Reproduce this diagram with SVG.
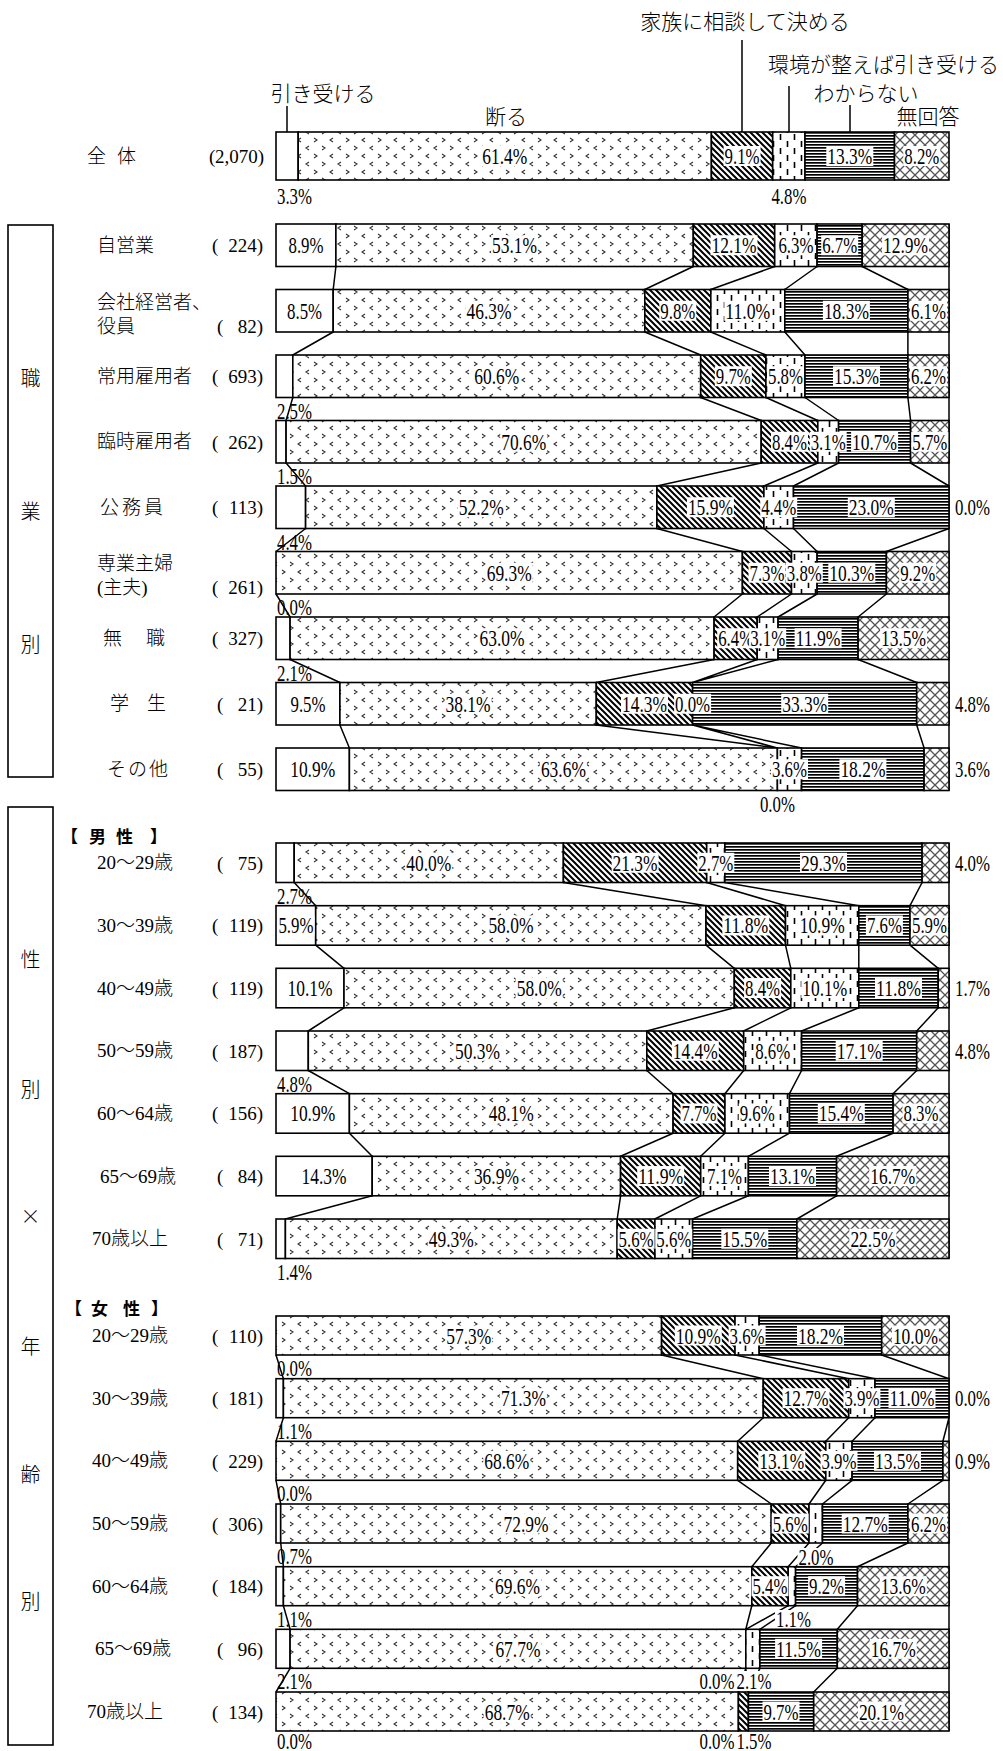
<svg xmlns="http://www.w3.org/2000/svg" width="1003" height="1751" viewBox="0 0 1003 1751">
<style>
.a,.b,.c,.d,.e,.f{stroke:#000;stroke-width:1.6}
.a{fill:#fff}.b{fill:url(#pD)}.c{fill:url(#pK)}.d{fill:url(#pE)}.e{fill:url(#pW)}.f{fill:url(#pN)}
.lb{fill:#fff}
.p{font-family:"Liberation Serif",serif;font-size:24px;dominant-baseline:central;text-anchor:middle;fill:#000}
.q{font-family:"Liberation Serif",serif;font-size:24px;dominant-baseline:central;text-anchor:start;fill:#000}
.t{font-family:"Liberation Serif","Noto Sans CJK JP",serif;font-size:19px;font-weight:300;dominant-baseline:central;fill:#000}
.h{font-family:"Noto Sans CJK JP",sans-serif;font-size:21px;font-weight:300;dominant-baseline:central;fill:#000}
.hb{font-family:"Noto Sans CJK JP",sans-serif;font-size:17px;font-weight:bold;dominant-baseline:central;fill:#000}
.k{font-family:"Noto Sans CJK JP",sans-serif;font-size:20px;font-weight:300;dominant-baseline:central;text-anchor:middle;fill:#000}
.ln{stroke:#000;stroke-width:1.5;fill:none}
.box{fill:none;stroke:#000;stroke-width:1.6}
</style>
<defs>
<pattern id="pD" width="32" height="16" patternUnits="userSpaceOnUse">
<rect width="32" height="16" fill="#fff"/>
<path d="M2,2 L5,4 L2,6 M21,2 L18,4 L21,6 M13,10 L10,12 L13,14 M26,10 L29,12 L26,14" fill="none" stroke="#333" stroke-width="1.1"/>
</pattern>
<pattern id="pK" width="6" height="6" patternUnits="userSpaceOnUse">
<rect width="6" height="6" fill="#fff"/>
<path d="M-1,-1 L7,7 M-4,2 L2,8 M2,-4 L8,2" stroke="#000" stroke-width="2"/>
</pattern>
<pattern id="pE" width="14" height="14" patternUnits="userSpaceOnUse">
<rect width="14" height="14" fill="#fff"/>
<path d="M3.5,1 V7 M10.5,8 V14" stroke="#000" stroke-width="1.6"/>
</pattern>
<pattern id="pW" width="4" height="3" patternUnits="userSpaceOnUse">
<rect width="4" height="3" fill="#fff"/>
<rect width="4" height="1.7" fill="#000"/>
</pattern>
<pattern id="pN" width="10" height="10" patternUnits="userSpaceOnUse">
<rect width="10" height="10" fill="#fff"/>
<path d="M0,0 L10,10 M10,0 L0,10" stroke="#555" stroke-width="1.3"/>
</pattern>
</defs>
<rect width="1003" height="1751" fill="#fff"/>

<g id="legend">
<text class="h" x="323" y="92" text-anchor="middle">引き受ける</text>
<text class="h" x="506" y="115" text-anchor="middle">断る</text>
<text class="h" x="745" y="20" text-anchor="middle">家族に相談して決める</text>
<text class="h" x="768" y="63">環境が整えば引き受ける</text>
<text class="h" x="866" y="92" text-anchor="middle">わからない</text>
<text class="h" x="928" y="115" text-anchor="middle">無回答</text>
<path class="ln" d="M287 106V132M742 40V132M789 86V132M850 105V132"/>
</g>

<g id="group-boxes">
<rect class="box" x="8" y="225" width="45" height="552"/>
<text class="k" x="30.5" y="377">職</text>
<text class="k" x="30.5" y="510">業</text>
<text class="k" x="30.5" y="643">別</text>
<rect class="box" x="8" y="807" width="45" height="938"/>
<text class="k" x="30.5" y="958">性</text>
<text class="k" x="30.5" y="1088">別</text>
<text class="k" x="30.5" y="1215">×</text>
<text class="k" x="30.5" y="1345">年</text>
<text class="k" x="30.5" y="1473">齢</text>
<text class="k" x="30.5" y="1600">別</text>
<text class="hb" x="61 78 89 106 116 133 150" y="835">【 男 性 】</text>
<text class="hb" x="65 82 91 108 123 140 151" y="1307">【 女 性 】</text>
</g>

<g id="connectors">
<path class="ln" d="M335.9 266.5L333.2 289.5M693.3 266.5L644.8 289.5M774.7 266.5L710.8 289.5M817.1 266.5L784.8 289.5M862.2 266.5L907.9 289.5M333.2 332L292.8 355M644.8 332L700.7 355M710.8 332L765.9 355M784.8 332L805 355M907.9 332L907.9 355M292.8 397.5L286.1 420.5M700.7 397.5L761.2 420.5M765.9 397.5L817.8 420.5M805 397.5L838.6 420.5M907.9 397.5L910.6 420.5M286.1 463L305.6 486M761.2 463L656.9 486M817.8 463L763.9 486M838.6 463L793.5 486M910.6 463L949 486M305.6 528.5L276 551.5M656.9 528.5L742.4 551.5M763.9 528.5L791.5 551.5M793.5 528.5L817.1 551.5M949 528.5L886.4 551.5M276 594L290.1 617M742.4 594L714.1 617M791.5 594L757.2 617M817.1 594L778.1 617M886.4 594L858.1 617M290.1 659.5L339.9 682.5M714.1 659.5L596.3 682.5M757.2 659.5L692.6 682.5M778.1 659.5L692.6 682.5M858.1 659.5L916.7 682.5M339.9 725L349.4 748M596.3 725L777.4 748M692.6 725L777.4 748M692.6 725L801.6 748M916.7 725L924.1 748M949 224V790.5"/>
<path class="ln" d="M294.2 882.5L315.7 905.7M563.4 882.5L706 905.7M706.7 882.5L785.5 905.7M724.9 882.5L858.8 905.7M922.1 882.5L910 905.7M315.7 945.2L344 968.3M706 945.2L734.3 968.3M785.5 945.2L790.8 968.3M858.8 945.2L858.8 968.3M910 945.2L938.2 968.3M344 1007.8L308.3 1031M734.3 1007.8L646.8 1031M790.8 1007.8L743.7 1031M858.8 1007.8L801.6 1031M938.2 1007.8L916.7 1031M308.3 1070.5L349.4 1093.7M646.8 1070.5L673.1 1093.7M743.7 1070.5L724.9 1093.7M801.6 1070.5L789.5 1093.7M916.7 1070.5L893.1 1093.7M349.4 1133.2L372.2 1156.3M673.1 1133.2L620.6 1156.3M724.9 1133.2L700.7 1156.3M789.5 1133.2L748.4 1156.3M893.1 1133.2L836.6 1156.3M372.2 1195.8L285.4 1219M620.6 1195.8L617.2 1219M700.7 1195.8L654.9 1219M748.4 1195.8L692.6 1219M836.6 1195.8L796.9 1219M949 843V1258.5"/>
<path class="ln" d="M276 1355L283.4 1378.7M661.6 1355L763.3 1378.7M735 1355L848.7 1378.7M759.2 1355L875 1378.7M881.7 1355L949 1378.7M283.4 1417.7L276 1441.3M763.3 1417.7L737.7 1441.3M848.7 1417.7L825.8 1441.3M875 1417.7L852.1 1441.3M949 1417.7L942.9 1441.3M276 1480.3L280.7 1504M737.7 1480.3L771.3 1504M825.8 1480.3L809 1504M852.1 1480.3L822.5 1504M942.9 1480.3L907.9 1504M280.7 1543L283.4 1566.7M771.3 1543L751.8 1566.7M809 1543L788.2 1566.7M822.5 1543L795.6 1566.7M907.9 1543L857.5 1566.7M283.4 1605.7L290.1 1629.3M751.8 1605.7L745.8 1629.3M788.2 1605.7L745.8 1629.3M795.6 1605.7L759.9 1629.3M857.5 1605.7L837.3 1629.3M290.1 1668.3L276 1692M745.8 1668.3L738.4 1692M745.8 1668.3L748.4 1692M759.9 1668.3L748.4 1692M837.3 1668.3L813.7 1692M949 1316V1731"/>
</g>

<g id="row-total">
<text class="t" x="87 105 117" y="156">全　体</text>
<text class="t" y="156"><tspan x="209">(</tspan><tspan x="264" text-anchor="end">2,070)</tspan></text>
<rect class="a" x="276" y="132" width="22.2" height="48"/><rect class="b" x="298.2" y="132" width="413.2" height="48"/><rect class="c" x="711.4" y="132" width="61.3" height="48"/><rect class="d" x="772.7" y="132" width="32.3" height="48"/><rect class="e" x="805" y="132" width="89.5" height="48"/><rect class="f" x="894.5" y="132" width="54.5" height="48"/>
<text class="q" x="277" y="196" textLength="35" lengthAdjust="spacingAndGlyphs">3.3%</text>
<rect class="lb" x="481.3" y="146" width="47" height="20"/><text class="p" x="504.8" y="156" textLength="45" lengthAdjust="spacingAndGlyphs">61.4%</text>
<rect class="lb" x="723.6" y="146" width="37" height="20"/><text class="p" x="742.1" y="156" textLength="35" lengthAdjust="spacingAndGlyphs">9.1%</text>
<text class="p" x="788.9" y="196" textLength="35" lengthAdjust="spacingAndGlyphs">4.8%</text>
<rect class="lb" x="826.3" y="146" width="47" height="20"/><text class="p" x="849.8" y="156" textLength="45" lengthAdjust="spacingAndGlyphs">13.3%</text>
<rect class="lb" x="903.3" y="146" width="37" height="20"/><text class="p" x="921.8" y="156" textLength="35" lengthAdjust="spacingAndGlyphs">8.2%</text>
</g>

<g id="row-jieigyo">
<text class="t" x="97" y="245.25">自営業</text>
<text class="t" y="245.25"><tspan x="212">(</tspan><tspan x="263" text-anchor="end">224)</tspan></text>
<rect class="a" x="276" y="224" width="59.9" height="42.5"/><rect class="b" x="335.9" y="224" width="357.4" height="42.5"/><rect class="c" x="693.3" y="224" width="81.4" height="42.5"/><rect class="d" x="774.7" y="224" width="42.4" height="42.5"/><rect class="e" x="817.1" y="224" width="45.1" height="42.5"/><rect class="f" x="862.2" y="224" width="86.8" height="42.5"/>
<rect class="lb" x="287.5" y="235.25" width="37" height="20"/><text class="p" x="306" y="245.25" textLength="35" lengthAdjust="spacingAndGlyphs">8.9%</text>
<rect class="lb" x="491.1" y="235.25" width="47" height="20"/><text class="p" x="514.6" y="245.25" textLength="45" lengthAdjust="spacingAndGlyphs">53.1%</text>
<rect class="lb" x="710.5" y="235.25" width="47" height="20"/><text class="p" x="734" y="245.25" textLength="45" lengthAdjust="spacingAndGlyphs">12.1%</text>
<rect class="lb" x="777.4" y="235.25" width="37" height="20"/><text class="p" x="795.9" y="245.25" textLength="35" lengthAdjust="spacingAndGlyphs">6.3%</text>
<rect class="lb" x="821.2" y="235.25" width="37" height="20"/><text class="p" x="839.7" y="245.25" textLength="35" lengthAdjust="spacingAndGlyphs">6.7%</text>
<rect class="lb" x="882.1" y="235.25" width="47" height="20"/><text class="p" x="905.6" y="245.25" textLength="45" lengthAdjust="spacingAndGlyphs">12.9%</text>
</g>

<g id="row-kaisha">
<text class="t" x="97" y="302">会社経営者、</text>
<text class="t" x="97" y="326">役員</text>
<text class="t" y="326"><tspan x="217">(</tspan><tspan x="263" text-anchor="end">82)</tspan></text>
<rect class="a" x="276" y="289.5" width="57.2" height="42.5"/><rect class="b" x="333.2" y="289.5" width="311.6" height="42.5"/><rect class="c" x="644.8" y="289.5" width="66" height="42.5"/><rect class="d" x="710.8" y="289.5" width="74" height="42.5"/><rect class="e" x="784.8" y="289.5" width="123.1" height="42.5"/><rect class="f" x="907.9" y="289.5" width="41.1" height="42.5"/>
<rect class="lb" x="286.1" y="300.75" width="37" height="20"/><text class="p" x="304.6" y="310.75" textLength="35" lengthAdjust="spacingAndGlyphs">8.5%</text>
<rect class="lb" x="465.5" y="300.75" width="47" height="20"/><text class="p" x="489" y="310.75" textLength="45" lengthAdjust="spacingAndGlyphs">46.3%</text>
<rect class="lb" x="659.3" y="300.75" width="37" height="20"/><text class="p" x="677.8" y="310.75" textLength="35" lengthAdjust="spacingAndGlyphs">9.8%</text>
<rect class="lb" x="724.3" y="300.75" width="47" height="20"/><text class="p" x="747.8" y="310.75" textLength="45" lengthAdjust="spacingAndGlyphs">11.0%</text>
<rect class="lb" x="822.9" y="300.75" width="47" height="20"/><text class="p" x="846.4" y="310.75" textLength="45" lengthAdjust="spacingAndGlyphs">18.3%</text>
<rect class="lb" x="910" y="300.75" width="37" height="20"/><text class="p" x="928.5" y="310.75" textLength="35" lengthAdjust="spacingAndGlyphs">6.1%</text>
</g>

<g id="row-joyo">
<text class="t" x="97" y="376.25">常用雇用者</text>
<text class="t" y="376.25"><tspan x="212">(</tspan><tspan x="263" text-anchor="end">693)</tspan></text>
<rect class="a" x="276" y="355" width="16.8" height="42.5"/><rect class="b" x="292.8" y="355" width="407.9" height="42.5"/><rect class="c" x="700.7" y="355" width="65.2" height="42.5"/><rect class="d" x="765.9" y="355" width="39.1" height="42.5"/><rect class="e" x="805" y="355" width="102.9" height="42.5"/><rect class="f" x="907.9" y="355" width="41.1" height="42.5"/>
<text class="q" x="277" y="410.5" textLength="35" lengthAdjust="spacingAndGlyphs">2.5%</text>
<rect class="lb" x="473.3" y="366.25" width="47" height="20"/><text class="p" x="496.8" y="376.25" textLength="45" lengthAdjust="spacingAndGlyphs">60.6%</text>
<rect class="lb" x="714.8" y="366.25" width="37" height="20"/><text class="p" x="733.3" y="376.25" textLength="35" lengthAdjust="spacingAndGlyphs">9.7%</text>
<rect class="lb" x="767" y="366.25" width="37" height="20"/><text class="p" x="785.5" y="376.25" textLength="35" lengthAdjust="spacingAndGlyphs">5.8%</text>
<rect class="lb" x="833" y="366.25" width="47" height="20"/><text class="p" x="856.5" y="376.25" textLength="45" lengthAdjust="spacingAndGlyphs">15.3%</text>
<rect class="lb" x="910" y="366.25" width="37" height="20"/><text class="p" x="928.5" y="376.25" textLength="35" lengthAdjust="spacingAndGlyphs">6.2%</text>
</g>

<g id="row-rinji">
<text class="t" x="97" y="441.75">臨時雇用者</text>
<text class="t" y="441.75"><tspan x="212">(</tspan><tspan x="263" text-anchor="end">262)</tspan></text>
<rect class="a" x="276" y="420.5" width="10.1" height="42.5"/><rect class="b" x="286.1" y="420.5" width="475.1" height="42.5"/><rect class="c" x="761.2" y="420.5" width="56.6" height="42.5"/><rect class="d" x="817.8" y="420.5" width="20.8" height="42.5"/><rect class="e" x="838.6" y="420.5" width="72" height="42.5"/><rect class="f" x="910.6" y="420.5" width="38.4" height="42.5"/>
<text class="q" x="277" y="476" textLength="35" lengthAdjust="spacingAndGlyphs">1.5%</text>
<rect class="lb" x="500.2" y="431.75" width="47" height="20"/><text class="p" x="523.7" y="441.75" textLength="45" lengthAdjust="spacingAndGlyphs">70.6%</text>
<rect class="lb" x="771" y="431.75" width="37" height="20"/><text class="p" x="789.5" y="441.75" textLength="35" lengthAdjust="spacingAndGlyphs">8.4%</text>
<rect class="lb" x="809.7" y="431.75" width="37" height="20"/><text class="p" x="828.2" y="441.75" textLength="35" lengthAdjust="spacingAndGlyphs">3.1%</text>
<rect class="lb" x="851.1" y="431.75" width="47" height="20"/><text class="p" x="874.6" y="441.75" textLength="45" lengthAdjust="spacingAndGlyphs">10.7%</text>
<rect class="lb" x="911.3" y="431.75" width="37" height="20"/><text class="p" x="929.8" y="441.75" textLength="35" lengthAdjust="spacingAndGlyphs">5.7%</text>
</g>

<g id="row-komuin">
<text class="t" x="100 119 122 141 144" y="507.25">公 務 員</text>
<text class="t" y="507.25"><tspan x="212">(</tspan><tspan x="263" text-anchor="end">113)</tspan></text>
<rect class="a" x="276" y="486" width="29.6" height="42.5"/><rect class="b" x="305.6" y="486" width="351.3" height="42.5"/><rect class="c" x="656.9" y="486" width="107" height="42.5"/><rect class="d" x="763.9" y="486" width="29.6" height="42.5"/><rect class="e" x="793.5" y="486" width="155.5" height="42.5"/>
<text class="q" x="277" y="541.5" textLength="35" lengthAdjust="spacingAndGlyphs">4.4%</text>
<rect class="lb" x="457.8" y="497.25" width="47" height="20"/><text class="p" x="481.3" y="507.25" textLength="45" lengthAdjust="spacingAndGlyphs">52.2%</text>
<rect class="lb" x="686.9" y="497.25" width="47" height="20"/><text class="p" x="710.4" y="507.25" textLength="45" lengthAdjust="spacingAndGlyphs">15.9%</text>
<rect class="lb" x="760.2" y="497.25" width="37" height="20"/><text class="p" x="778.7" y="507.25" textLength="35" lengthAdjust="spacingAndGlyphs">4.4%</text>
<rect class="lb" x="847.8" y="497.25" width="47" height="20"/><text class="p" x="871.3" y="507.25" textLength="45" lengthAdjust="spacingAndGlyphs">23.0%</text>
<text class="q" x="955" y="507.25" textLength="35" lengthAdjust="spacingAndGlyphs">0.0%</text>
</g>

<g id="row-sengyo">
<text class="t" x="97" y="563">専業主婦</text>
<text class="t" x="97" y="587">(主夫)</text>
<text class="t" y="587"><tspan x="212">(</tspan><tspan x="263" text-anchor="end">261)</tspan></text>
<rect class="b" x="276" y="551.5" width="466.4" height="42.5"/><rect class="c" x="742.4" y="551.5" width="49.1" height="42.5"/><rect class="d" x="791.5" y="551.5" width="25.6" height="42.5"/><rect class="e" x="817.1" y="551.5" width="69.3" height="42.5"/><rect class="f" x="886.4" y="551.5" width="62.6" height="42.5"/>
<text class="q" x="277" y="607" textLength="35" lengthAdjust="spacingAndGlyphs">0.0%</text>
<rect class="lb" x="485.7" y="562.75" width="47" height="20"/><text class="p" x="509.2" y="572.75" textLength="45" lengthAdjust="spacingAndGlyphs">69.3%</text>
<rect class="lb" x="748.5" y="562.75" width="37" height="20"/><text class="p" x="767" y="572.75" textLength="35" lengthAdjust="spacingAndGlyphs">7.3%</text>
<rect class="lb" x="785.8" y="562.75" width="37" height="20"/><text class="p" x="804.3" y="572.75" textLength="35" lengthAdjust="spacingAndGlyphs">3.8%</text>
<rect class="lb" x="828.3" y="562.75" width="47" height="20"/><text class="p" x="851.8" y="572.75" textLength="45" lengthAdjust="spacingAndGlyphs">10.3%</text>
<rect class="lb" x="899.2" y="562.75" width="37" height="20"/><text class="p" x="917.7" y="572.75" textLength="35" lengthAdjust="spacingAndGlyphs">9.2%</text>
</g>

<g id="row-mushoku">
<text class="t" x="103 122 146" y="638.25">無　職</text>
<text class="t" y="638.25"><tspan x="212">(</tspan><tspan x="263" text-anchor="end">327)</tspan></text>
<rect class="a" x="276" y="617" width="14.1" height="42.5"/><rect class="b" x="290.1" y="617" width="424" height="42.5"/><rect class="c" x="714.1" y="617" width="43.1" height="42.5"/><rect class="d" x="757.2" y="617" width="20.9" height="42.5"/><rect class="e" x="778.1" y="617" width="80" height="42.5"/><rect class="f" x="858.1" y="617" width="90.9" height="42.5"/>
<text class="q" x="277" y="672.5" textLength="35" lengthAdjust="spacingAndGlyphs">2.1%</text>
<rect class="lb" x="478.6" y="628.25" width="47" height="20"/><text class="p" x="502.1" y="638.25" textLength="45" lengthAdjust="spacingAndGlyphs">63.0%</text>
<rect class="lb" x="717.2" y="628.25" width="37" height="20"/><text class="p" x="735.7" y="638.25" textLength="35" lengthAdjust="spacingAndGlyphs">6.4%</text>
<rect class="lb" x="749.2" y="628.25" width="37" height="20"/><text class="p" x="767.7" y="638.25" textLength="35" lengthAdjust="spacingAndGlyphs">3.1%</text>
<rect class="lb" x="794.6" y="628.25" width="47" height="20"/><text class="p" x="818.1" y="638.25" textLength="45" lengthAdjust="spacingAndGlyphs">11.9%</text>
<rect class="lb" x="880.1" y="628.25" width="47" height="20"/><text class="p" x="903.6" y="638.25" textLength="45" lengthAdjust="spacingAndGlyphs">13.5%</text>
</g>

<g id="row-gakusei">
<text class="t" x="110 129 147" y="703.75">学　生</text>
<text class="t" y="703.75"><tspan x="217">(</tspan><tspan x="263" text-anchor="end">21)</tspan></text>
<rect class="a" x="276" y="682.5" width="63.9" height="42.5"/><rect class="b" x="339.9" y="682.5" width="256.4" height="42.5"/><rect class="c" x="596.3" y="682.5" width="96.3" height="42.5"/><rect class="e" x="692.6" y="682.5" width="224.1" height="42.5"/><rect class="f" x="916.7" y="682.5" width="32.3" height="42.5"/>
<rect class="lb" x="289.5" y="693.75" width="37" height="20"/><text class="p" x="308" y="703.75" textLength="35" lengthAdjust="spacingAndGlyphs">9.5%</text>
<rect class="lb" x="444.6" y="693.75" width="47" height="20"/><text class="p" x="468.1" y="703.75" textLength="45" lengthAdjust="spacingAndGlyphs">38.1%</text>
<rect class="lb" x="621" y="693.75" width="47" height="20"/><text class="p" x="644.5" y="703.75" textLength="45" lengthAdjust="spacingAndGlyphs">14.3%</text>
<rect class="lb" x="674.1" y="693.75" width="37" height="20"/><text class="p" x="692.6" y="703.75" textLength="35" lengthAdjust="spacingAndGlyphs">0.0%</text>
<rect class="lb" x="781.2" y="693.75" width="47" height="20"/><text class="p" x="804.7" y="703.75" textLength="45" lengthAdjust="spacingAndGlyphs">33.3%</text>
<text class="q" x="955" y="703.75" textLength="35" lengthAdjust="spacingAndGlyphs">4.8%</text>
</g>

<g id="row-sonota">
<text class="t" x="107 126 128 147 149" y="769.25">そ の 他</text>
<text class="t" y="769.25"><tspan x="217">(</tspan><tspan x="263" text-anchor="end">55)</tspan></text>
<rect class="a" x="276" y="748" width="73.4" height="42.5"/><rect class="b" x="349.4" y="748" width="428" height="42.5"/><rect class="d" x="777.4" y="748" width="24.2" height="42.5"/><rect class="e" x="801.6" y="748" width="122.5" height="42.5"/><rect class="f" x="924.1" y="748" width="24.9" height="42.5"/>
<rect class="lb" x="289.2" y="759.25" width="47" height="20"/><text class="p" x="312.7" y="769.25" textLength="45" lengthAdjust="spacingAndGlyphs">10.9%</text>
<rect class="lb" x="539.9" y="759.25" width="47" height="20"/><text class="p" x="563.4" y="769.25" textLength="45" lengthAdjust="spacingAndGlyphs">63.6%</text>
<rect class="lb" x="758.9" y="793.5" width="37" height="20"/><text class="p" x="777.4" y="803.5" textLength="35" lengthAdjust="spacingAndGlyphs">0.0%</text>
<rect class="lb" x="771" y="759.25" width="37" height="20"/><text class="p" x="789.5" y="769.25" textLength="35" lengthAdjust="spacingAndGlyphs">3.6%</text>
<rect class="lb" x="839.4" y="759.25" width="47" height="20"/><text class="p" x="862.9" y="769.25" textLength="45" lengthAdjust="spacingAndGlyphs">18.2%</text>
<text class="q" x="955" y="769.25" textLength="35" lengthAdjust="spacingAndGlyphs">3.6%</text>
</g>

<g id="row-m20">
<text class="t" x="97" y="862.75">20～29歳</text>
<text class="t" y="862.75"><tspan x="217">(</tspan><tspan x="263" text-anchor="end">75)</tspan></text>
<rect class="a" x="276" y="843" width="18.2" height="39.5"/><rect class="b" x="294.2" y="843" width="269.2" height="39.5"/><rect class="c" x="563.4" y="843" width="143.3" height="39.5"/><rect class="d" x="706.7" y="843" width="18.2" height="39.5"/><rect class="e" x="724.9" y="843" width="197.2" height="39.5"/><rect class="f" x="922.1" y="843" width="26.9" height="39.5"/>
<text class="q" x="277" y="895.5" textLength="35" lengthAdjust="spacingAndGlyphs">2.7%</text>
<rect class="lb" x="405.3" y="852.75" width="47" height="20"/><text class="p" x="428.8" y="862.75" textLength="45" lengthAdjust="spacingAndGlyphs">40.0%</text>
<rect class="lb" x="611.6" y="852.75" width="47" height="20"/><text class="p" x="635.1" y="862.75" textLength="45" lengthAdjust="spacingAndGlyphs">21.3%</text>
<rect class="lb" x="697.3" y="852.75" width="37" height="20"/><text class="p" x="715.8" y="862.75" textLength="35" lengthAdjust="spacingAndGlyphs">2.7%</text>
<rect class="lb" x="800" y="852.75" width="47" height="20"/><text class="p" x="823.5" y="862.75" textLength="45" lengthAdjust="spacingAndGlyphs">29.3%</text>
<text class="q" x="955" y="862.75" textLength="35" lengthAdjust="spacingAndGlyphs">4.0%</text>
</g>

<g id="row-m30">
<text class="t" x="97" y="925.45">30～39歳</text>
<text class="t" y="925.45"><tspan x="212">(</tspan><tspan x="263" text-anchor="end">119)</tspan></text>
<rect class="a" x="276" y="905.7" width="39.7" height="39.5"/><rect class="b" x="315.7" y="905.7" width="390.3" height="39.5"/><rect class="c" x="706" y="905.7" width="79.5" height="39.5"/><rect class="d" x="785.5" y="905.7" width="73.3" height="39.5"/><rect class="e" x="858.8" y="905.7" width="51.2" height="39.5"/><rect class="f" x="910" y="905.7" width="39" height="39.5"/>
<rect class="lb" x="277.4" y="915.45" width="37" height="20"/><text class="p" x="295.9" y="925.45" textLength="35" lengthAdjust="spacingAndGlyphs">5.9%</text>
<rect class="lb" x="487.4" y="915.45" width="47" height="20"/><text class="p" x="510.9" y="925.45" textLength="45" lengthAdjust="spacingAndGlyphs">58.0%</text>
<rect class="lb" x="722.3" y="915.45" width="47" height="20"/><text class="p" x="745.8" y="925.45" textLength="45" lengthAdjust="spacingAndGlyphs">11.8%</text>
<rect class="lb" x="798.7" y="915.45" width="47" height="20"/><text class="p" x="822.2" y="925.45" textLength="45" lengthAdjust="spacingAndGlyphs">10.9%</text>
<rect class="lb" x="865.9" y="915.45" width="37" height="20"/><text class="p" x="884.4" y="925.45" textLength="35" lengthAdjust="spacingAndGlyphs">7.6%</text>
<rect class="lb" x="911" y="915.45" width="37" height="20"/><text class="p" x="929.5" y="925.45" textLength="35" lengthAdjust="spacingAndGlyphs">5.9%</text>
</g>

<g id="row-m40">
<text class="t" x="97" y="988.05">40～49歳</text>
<text class="t" y="988.05"><tspan x="212">(</tspan><tspan x="263" text-anchor="end">119)</tspan></text>
<rect class="a" x="276" y="968.3" width="68" height="39.5"/><rect class="b" x="344" y="968.3" width="390.3" height="39.5"/><rect class="c" x="734.3" y="968.3" width="56.5" height="39.5"/><rect class="d" x="790.8" y="968.3" width="68" height="39.5"/><rect class="e" x="858.8" y="968.3" width="79.4" height="39.5"/><rect class="f" x="938.2" y="968.3" width="10.8" height="39.5"/>
<rect class="lb" x="286.5" y="978.05" width="47" height="20"/><text class="p" x="310" y="988.05" textLength="45" lengthAdjust="spacingAndGlyphs">10.1%</text>
<rect class="lb" x="515.7" y="978.05" width="47" height="20"/><text class="p" x="539.2" y="988.05" textLength="45" lengthAdjust="spacingAndGlyphs">58.0%</text>
<rect class="lb" x="744.1" y="978.05" width="37" height="20"/><text class="p" x="762.6" y="988.05" textLength="35" lengthAdjust="spacingAndGlyphs">8.4%</text>
<rect class="lb" x="801.3" y="978.05" width="47" height="20"/><text class="p" x="824.8" y="988.05" textLength="45" lengthAdjust="spacingAndGlyphs">10.1%</text>
<rect class="lb" x="875" y="978.05" width="47" height="20"/><text class="p" x="898.5" y="988.05" textLength="45" lengthAdjust="spacingAndGlyphs">11.8%</text>
<text class="q" x="955" y="988.05" textLength="35" lengthAdjust="spacingAndGlyphs">1.7%</text>
</g>

<g id="row-m50">
<text class="t" x="97" y="1050.75">50～59歳</text>
<text class="t" y="1050.75"><tspan x="212">(</tspan><tspan x="263" text-anchor="end">187)</tspan></text>
<rect class="a" x="276" y="1031" width="32.3" height="39.5"/><rect class="b" x="308.3" y="1031" width="338.5" height="39.5"/><rect class="c" x="646.8" y="1031" width="96.9" height="39.5"/><rect class="d" x="743.7" y="1031" width="57.9" height="39.5"/><rect class="e" x="801.6" y="1031" width="115.1" height="39.5"/><rect class="f" x="916.7" y="1031" width="32.3" height="39.5"/>
<text class="q" x="277" y="1083.5" textLength="35" lengthAdjust="spacingAndGlyphs">4.8%</text>
<rect class="lb" x="454.1" y="1040.75" width="47" height="20"/><text class="p" x="477.6" y="1050.75" textLength="45" lengthAdjust="spacingAndGlyphs">50.3%</text>
<rect class="lb" x="671.8" y="1040.75" width="47" height="20"/><text class="p" x="695.3" y="1050.75" textLength="45" lengthAdjust="spacingAndGlyphs">14.4%</text>
<rect class="lb" x="754.2" y="1040.75" width="37" height="20"/><text class="p" x="772.7" y="1050.75" textLength="35" lengthAdjust="spacingAndGlyphs">8.6%</text>
<rect class="lb" x="835.7" y="1040.75" width="47" height="20"/><text class="p" x="859.2" y="1050.75" textLength="45" lengthAdjust="spacingAndGlyphs">17.1%</text>
<text class="q" x="955" y="1050.75" textLength="35" lengthAdjust="spacingAndGlyphs">4.8%</text>
</g>

<g id="row-m60">
<text class="t" x="97" y="1113.45">60～64歳</text>
<text class="t" y="1113.45"><tspan x="212">(</tspan><tspan x="263" text-anchor="end">156)</tspan></text>
<rect class="a" x="276" y="1093.7" width="73.4" height="39.5"/><rect class="b" x="349.4" y="1093.7" width="323.7" height="39.5"/><rect class="c" x="673.1" y="1093.7" width="51.8" height="39.5"/><rect class="d" x="724.9" y="1093.7" width="64.6" height="39.5"/><rect class="e" x="789.5" y="1093.7" width="103.6" height="39.5"/><rect class="f" x="893.1" y="1093.7" width="55.9" height="39.5"/>
<rect class="lb" x="289.2" y="1103.45" width="47" height="20"/><text class="p" x="312.7" y="1113.45" textLength="45" lengthAdjust="spacingAndGlyphs">10.9%</text>
<rect class="lb" x="487.8" y="1103.45" width="47" height="20"/><text class="p" x="511.3" y="1113.45" textLength="45" lengthAdjust="spacingAndGlyphs">48.1%</text>
<rect class="lb" x="680.5" y="1103.45" width="37" height="20"/><text class="p" x="699" y="1113.45" textLength="35" lengthAdjust="spacingAndGlyphs">7.7%</text>
<rect class="lb" x="738.7" y="1103.45" width="37" height="20"/><text class="p" x="757.2" y="1113.45" textLength="35" lengthAdjust="spacingAndGlyphs">9.6%</text>
<rect class="lb" x="817.8" y="1103.45" width="47" height="20"/><text class="p" x="841.3" y="1113.45" textLength="45" lengthAdjust="spacingAndGlyphs">15.4%</text>
<rect class="lb" x="902.5" y="1103.45" width="37" height="20"/><text class="p" x="921" y="1113.45" textLength="35" lengthAdjust="spacingAndGlyphs">8.3%</text>
</g>

<g id="row-m65">
<text class="t" x="100" y="1176.05">65～69歳</text>
<text class="t" y="1176.05"><tspan x="217">(</tspan><tspan x="263" text-anchor="end">84)</tspan></text>
<rect class="a" x="276" y="1156.3" width="96.2" height="39.5"/><rect class="b" x="372.2" y="1156.3" width="248.4" height="39.5"/><rect class="c" x="620.6" y="1156.3" width="80.1" height="39.5"/><rect class="d" x="700.7" y="1156.3" width="47.7" height="39.5"/><rect class="e" x="748.4" y="1156.3" width="88.2" height="39.5"/><rect class="f" x="836.6" y="1156.3" width="112.4" height="39.5"/>
<rect class="lb" x="300.6" y="1166.05" width="47" height="20"/><text class="p" x="324.1" y="1176.05" textLength="45" lengthAdjust="spacingAndGlyphs">14.3%</text>
<rect class="lb" x="472.9" y="1166.05" width="47" height="20"/><text class="p" x="496.4" y="1176.05" textLength="45" lengthAdjust="spacingAndGlyphs">36.9%</text>
<rect class="lb" x="637.2" y="1166.05" width="47" height="20"/><text class="p" x="660.7" y="1176.05" textLength="45" lengthAdjust="spacingAndGlyphs">11.9%</text>
<rect class="lb" x="706.1" y="1166.05" width="37" height="20"/><text class="p" x="724.6" y="1176.05" textLength="35" lengthAdjust="spacingAndGlyphs">7.1%</text>
<rect class="lb" x="769" y="1166.05" width="47" height="20"/><text class="p" x="792.5" y="1176.05" textLength="45" lengthAdjust="spacingAndGlyphs">13.1%</text>
<rect class="lb" x="869.3" y="1166.05" width="47" height="20"/><text class="p" x="892.8" y="1176.05" textLength="45" lengthAdjust="spacingAndGlyphs">16.7%</text>
</g>

<g id="row-m70">
<text class="t" x="92" y="1238.75">70歳以上</text>
<text class="t" y="1238.75"><tspan x="217">(</tspan><tspan x="263" text-anchor="end">71)</tspan></text>
<rect class="a" x="276" y="1219" width="9.4" height="39.5"/><rect class="b" x="285.4" y="1219" width="331.8" height="39.5"/><rect class="c" x="617.2" y="1219" width="37.7" height="39.5"/><rect class="d" x="654.9" y="1219" width="37.7" height="39.5"/><rect class="e" x="692.6" y="1219" width="104.3" height="39.5"/><rect class="f" x="796.9" y="1219" width="152.1" height="39.5"/>
<text class="q" x="277" y="1271.5" textLength="35" lengthAdjust="spacingAndGlyphs">1.4%</text>
<rect class="lb" x="427.8" y="1228.75" width="47" height="20"/><text class="p" x="451.3" y="1238.75" textLength="45" lengthAdjust="spacingAndGlyphs">49.3%</text>
<rect class="lb" x="617.6" y="1228.75" width="37" height="20"/><text class="p" x="636.1" y="1238.75" textLength="35" lengthAdjust="spacingAndGlyphs">5.6%</text>
<rect class="lb" x="655.3" y="1228.75" width="37" height="20"/><text class="p" x="673.8" y="1238.75" textLength="35" lengthAdjust="spacingAndGlyphs">5.6%</text>
<rect class="lb" x="721.3" y="1228.75" width="47" height="20"/><text class="p" x="744.8" y="1238.75" textLength="45" lengthAdjust="spacingAndGlyphs">15.5%</text>
<rect class="lb" x="849.4" y="1228.75" width="47" height="20"/><text class="p" x="872.9" y="1238.75" textLength="45" lengthAdjust="spacingAndGlyphs">22.5%</text>
</g>

<g id="row-f20">
<text class="t" x="92" y="1335.5">20～29歳</text>
<text class="t" y="1335.5"><tspan x="212">(</tspan><tspan x="263" text-anchor="end">110)</tspan></text>
<rect class="b" x="276" y="1316" width="385.6" height="39"/><rect class="c" x="661.6" y="1316" width="73.4" height="39"/><rect class="d" x="735" y="1316" width="24.2" height="39"/><rect class="e" x="759.2" y="1316" width="122.5" height="39"/><rect class="f" x="881.7" y="1316" width="67.3" height="39"/>
<text class="q" x="277" y="1368" textLength="35" lengthAdjust="spacingAndGlyphs">0.0%</text>
<rect class="lb" x="445.3" y="1325.5" width="47" height="20"/><text class="p" x="468.8" y="1335.5" textLength="45" lengthAdjust="spacingAndGlyphs">57.3%</text>
<rect class="lb" x="674.8" y="1325.5" width="47" height="20"/><text class="p" x="698.3" y="1335.5" textLength="45" lengthAdjust="spacingAndGlyphs">10.9%</text>
<rect class="lb" x="728.6" y="1325.5" width="37" height="20"/><text class="p" x="747.1" y="1335.5" textLength="35" lengthAdjust="spacingAndGlyphs">3.6%</text>
<rect class="lb" x="797" y="1325.5" width="47" height="20"/><text class="p" x="820.5" y="1335.5" textLength="45" lengthAdjust="spacingAndGlyphs">18.2%</text>
<rect class="lb" x="891.9" y="1325.5" width="47" height="20"/><text class="p" x="915.4" y="1335.5" textLength="45" lengthAdjust="spacingAndGlyphs">10.0%</text>
</g>

<g id="row-f30">
<text class="t" x="92" y="1398.2">30～39歳</text>
<text class="t" y="1398.2"><tspan x="212">(</tspan><tspan x="263" text-anchor="end">181)</tspan></text>
<rect class="a" x="276" y="1378.7" width="7.4" height="39"/><rect class="b" x="283.4" y="1378.7" width="479.9" height="39"/><rect class="c" x="763.3" y="1378.7" width="85.4" height="39"/><rect class="d" x="848.7" y="1378.7" width="26.3" height="39"/><rect class="e" x="875" y="1378.7" width="74" height="39"/>
<text class="q" x="277" y="1430.7" textLength="35" lengthAdjust="spacingAndGlyphs">1.1%</text>
<rect class="lb" x="499.9" y="1388.2" width="47" height="20"/><text class="p" x="523.4" y="1398.2" textLength="45" lengthAdjust="spacingAndGlyphs">71.3%</text>
<rect class="lb" x="782.5" y="1388.2" width="47" height="20"/><text class="p" x="806" y="1398.2" textLength="45" lengthAdjust="spacingAndGlyphs">12.7%</text>
<rect class="lb" x="843.4" y="1388.2" width="37" height="20"/><text class="p" x="861.9" y="1398.2" textLength="35" lengthAdjust="spacingAndGlyphs">3.9%</text>
<rect class="lb" x="888.5" y="1388.2" width="47" height="20"/><text class="p" x="912" y="1398.2" textLength="45" lengthAdjust="spacingAndGlyphs">11.0%</text>
<text class="q" x="955" y="1398.2" textLength="35" lengthAdjust="spacingAndGlyphs">0.0%</text>
</g>

<g id="row-f40">
<text class="t" x="92" y="1460.8">40～49歳</text>
<text class="t" y="1460.8"><tspan x="212">(</tspan><tspan x="263" text-anchor="end">229)</tspan></text>
<rect class="b" x="276" y="1441.3" width="461.7" height="39"/><rect class="c" x="737.7" y="1441.3" width="88.1" height="39"/><rect class="d" x="825.8" y="1441.3" width="26.3" height="39"/><rect class="e" x="852.1" y="1441.3" width="90.8" height="39"/><rect class="f" x="942.9" y="1441.3" width="6.1" height="39"/>
<text class="q" x="277" y="1493.3" textLength="35" lengthAdjust="spacingAndGlyphs">0.0%</text>
<rect class="lb" x="483.3" y="1450.8" width="47" height="20"/><text class="p" x="506.8" y="1460.8" textLength="45" lengthAdjust="spacingAndGlyphs">68.6%</text>
<rect class="lb" x="758.3" y="1450.8" width="47" height="20"/><text class="p" x="781.8" y="1460.8" textLength="45" lengthAdjust="spacingAndGlyphs">13.1%</text>
<rect class="lb" x="820.5" y="1450.8" width="37" height="20"/><text class="p" x="839" y="1460.8" textLength="35" lengthAdjust="spacingAndGlyphs">3.9%</text>
<rect class="lb" x="874" y="1450.8" width="47" height="20"/><text class="p" x="897.5" y="1460.8" textLength="45" lengthAdjust="spacingAndGlyphs">13.5%</text>
<text class="q" x="955" y="1460.8" textLength="35" lengthAdjust="spacingAndGlyphs">0.9%</text>
</g>

<g id="row-f50">
<text class="t" x="92" y="1523.5">50～59歳</text>
<text class="t" y="1523.5"><tspan x="212">(</tspan><tspan x="263" text-anchor="end">306)</tspan></text>
<rect class="a" x="276" y="1504" width="4.7" height="39"/><rect class="b" x="280.7" y="1504" width="490.6" height="39"/><rect class="c" x="771.3" y="1504" width="37.7" height="39"/><rect class="d" x="809" y="1504" width="13.5" height="39"/><rect class="e" x="822.5" y="1504" width="85.4" height="39"/><rect class="f" x="907.9" y="1504" width="41.1" height="39"/>
<text class="q" x="277" y="1556" textLength="35" lengthAdjust="spacingAndGlyphs">0.7%</text>
<rect class="lb" x="502.5" y="1513.5" width="47" height="20"/><text class="p" x="526" y="1523.5" textLength="45" lengthAdjust="spacingAndGlyphs">72.9%</text>
<rect class="lb" x="771.7" y="1513.5" width="37" height="20"/><text class="p" x="790.2" y="1523.5" textLength="35" lengthAdjust="spacingAndGlyphs">5.6%</text>
<rect class="lb" x="797.5" y="1548" width="37" height="18"/><text class="p" x="816" y="1557" textLength="35" lengthAdjust="spacingAndGlyphs">2.0%</text>
<rect class="lb" x="841.7" y="1513.5" width="47" height="20"/><text class="p" x="865.2" y="1523.5" textLength="45" lengthAdjust="spacingAndGlyphs">12.7%</text>
<rect class="lb" x="910" y="1513.5" width="37" height="20"/><text class="p" x="928.5" y="1523.5" textLength="35" lengthAdjust="spacingAndGlyphs">6.2%</text>
</g>

<g id="row-f60">
<text class="t" x="92" y="1586.2">60～64歳</text>
<text class="t" y="1586.2"><tspan x="212">(</tspan><tspan x="263" text-anchor="end">184)</tspan></text>
<rect class="a" x="276" y="1566.7" width="7.4" height="39"/><rect class="b" x="283.4" y="1566.7" width="468.4" height="39"/><rect class="c" x="751.8" y="1566.7" width="36.4" height="39"/><rect class="d" x="788.2" y="1566.7" width="7.4" height="39"/><rect class="e" x="795.6" y="1566.7" width="61.9" height="39"/><rect class="f" x="857.5" y="1566.7" width="91.5" height="39"/>
<text class="q" x="277" y="1618.7" textLength="35" lengthAdjust="spacingAndGlyphs">1.1%</text>
<rect class="lb" x="494.1" y="1576.2" width="47" height="20"/><text class="p" x="517.6" y="1586.2" textLength="45" lengthAdjust="spacingAndGlyphs">69.6%</text>
<rect class="lb" x="751.5" y="1576.2" width="37" height="20"/><text class="p" x="770" y="1586.2" textLength="35" lengthAdjust="spacingAndGlyphs">5.4%</text>
<rect class="lb" x="775" y="1610" width="37" height="18"/><text class="p" x="793.5" y="1619" textLength="35" lengthAdjust="spacingAndGlyphs">1.1%</text>
<rect class="lb" x="808.1" y="1576.2" width="37" height="20"/><text class="p" x="826.6" y="1586.2" textLength="35" lengthAdjust="spacingAndGlyphs">9.2%</text>
<rect class="lb" x="879.8" y="1576.2" width="47" height="20"/><text class="p" x="903.3" y="1586.2" textLength="45" lengthAdjust="spacingAndGlyphs">13.6%</text>
</g>

<g id="row-f65">
<text class="t" x="95" y="1648.8">65～69歳</text>
<text class="t" y="1648.8"><tspan x="217">(</tspan><tspan x="263" text-anchor="end">96)</tspan></text>
<rect class="a" x="276" y="1629.3" width="14.1" height="39"/><rect class="b" x="290.1" y="1629.3" width="455.7" height="39"/><rect class="d" x="745.8" y="1629.3" width="14.1" height="39"/><rect class="e" x="759.9" y="1629.3" width="77.4" height="39"/><rect class="f" x="837.3" y="1629.3" width="111.7" height="39"/>
<text class="q" x="277" y="1681.3" textLength="35" lengthAdjust="spacingAndGlyphs">2.1%</text>
<rect class="lb" x="494.4" y="1638.8" width="47" height="20"/><text class="p" x="517.9" y="1648.8" textLength="45" lengthAdjust="spacingAndGlyphs">67.7%</text>
<rect class="lb" x="698.5" y="1671" width="37" height="20"/><text class="p" x="717" y="1681" textLength="35" lengthAdjust="spacingAndGlyphs">0.0%</text>
<rect class="lb" x="735.5" y="1671" width="37" height="20"/><text class="p" x="754" y="1681" textLength="35" lengthAdjust="spacingAndGlyphs">2.1%</text>
<rect class="lb" x="775.1" y="1638.8" width="47" height="20"/><text class="p" x="798.6" y="1648.8" textLength="45" lengthAdjust="spacingAndGlyphs">11.5%</text>
<rect class="lb" x="869.7" y="1638.8" width="47" height="20"/><text class="p" x="893.2" y="1648.8" textLength="45" lengthAdjust="spacingAndGlyphs">16.7%</text>
</g>

<g id="row-f70">
<text class="t" x="87" y="1711.5">70歳以上</text>
<text class="t" y="1711.5"><tspan x="212">(</tspan><tspan x="263" text-anchor="end">134)</tspan></text>
<rect class="b" x="276" y="1692" width="462.4" height="39"/><rect class="c" x="738.4" y="1692" width="10" height="39"/><rect class="e" x="748.4" y="1692" width="65.3" height="39"/><rect class="f" x="813.7" y="1692" width="135.3" height="39"/>
<text class="q" x="277" y="1741" textLength="35" lengthAdjust="spacingAndGlyphs">0.0%</text>
<rect class="lb" x="483.7" y="1701.5" width="47" height="20"/><text class="p" x="507.2" y="1711.5" textLength="45" lengthAdjust="spacingAndGlyphs">68.7%</text>
<rect class="lb" x="698.5" y="1733" width="37" height="17"/><text class="p" x="717" y="1741" textLength="35" lengthAdjust="spacingAndGlyphs">0.0%</text>
<rect class="lb" x="735.5" y="1733" width="37" height="17"/><text class="p" x="754" y="1741" textLength="35" lengthAdjust="spacingAndGlyphs">1.5%</text>
<rect class="lb" x="762.5" y="1701.5" width="37" height="20"/><text class="p" x="781" y="1711.5" textLength="35" lengthAdjust="spacingAndGlyphs">9.7%</text>
<rect class="lb" x="857.9" y="1701.5" width="47" height="20"/><text class="p" x="881.4" y="1711.5" textLength="45" lengthAdjust="spacingAndGlyphs">20.1%</text>
</g>
</svg>
